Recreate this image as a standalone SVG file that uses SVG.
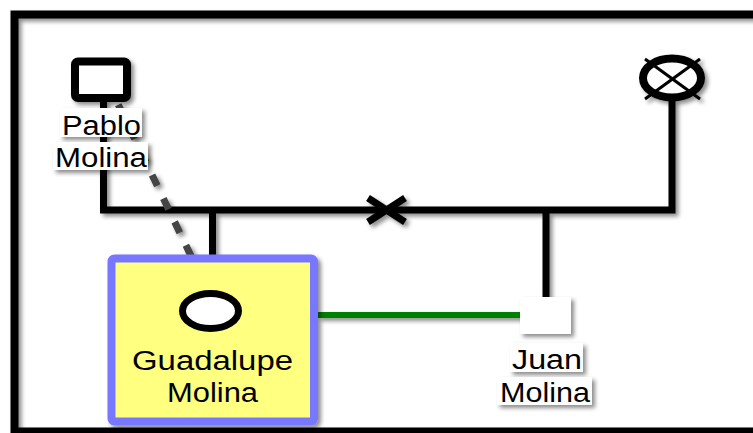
<svg xmlns="http://www.w3.org/2000/svg" width="753" height="433" viewBox="0 0 753 433">
<defs>
<filter id="sh" x="-20%" y="-20%" width="150%" height="150%">
<feGaussianBlur in="SourceAlpha" stdDeviation="2"/>
<feOffset dx="3" dy="3" result="b"/>
<feFlood flood-color="#000" flood-opacity="0.45"/>
<feComposite in2="b" operator="in"/>
<feMerge><feMergeNode/><feMergeNode in="SourceGraphic"/></feMerge>
</filter>
<style>
.ln{fill:none;stroke:#000;stroke-width:7;stroke-linejoin:miter}
.lbl{fill:#fff}
.t{font-family:"Liberation Sans",Arial,sans-serif;font-size:27px;fill:#000;text-anchor:middle}
</style>
</defs>
<rect width="753" height="433" fill="#fff"/>
<rect x="14.5" y="14.5" width="800" height="417" fill="none" stroke="#000" stroke-width="8" filter="url(#sh)"/>
<g id="connectors" filter="url(#sh)">
<polyline class="ln" points="103.5,100 103.5,210 672,210 672,100"/>
<line class="ln" x1="212.5" y1="210" x2="212.5" y2="259"/>
<line class="ln" x1="546" y1="210" x2="546" y2="298"/>
<line x1="368" y1="198" x2="405" y2="222" stroke="#000" stroke-width="7"/>
<line x1="368" y1="222" x2="405" y2="198" stroke="#000" stroke-width="7"/>
<line x1="318" y1="315" x2="521" y2="315" stroke="#008000" stroke-width="6"/>
<line x1="117" y1="102" x2="192" y2="258" stroke="#444" stroke-width="7" stroke-dasharray="12 14" stroke-dashoffset="-3"/>
</g>
<g id="pablo">
<rect x="75" y="61.5" width="52" height="36.5" rx="3" fill="#fff" stroke="#000" stroke-width="8" filter="url(#sh)"/>
<rect class="lbl" x="60" y="108" width="82" height="29" filter="url(#sh)"/>
<rect class="lbl" x="53" y="142" width="95" height="28" filter="url(#sh)"/>
<text class="t" x="101.5" y="135" textLength="79" lengthAdjust="spacingAndGlyphs">Pablo</text>
<text class="t" x="101" y="167" textLength="92" lengthAdjust="spacingAndGlyphs">Molina</text>
</g>
<g id="deceased" filter="url(#sh)">
<ellipse cx="672" cy="78" rx="29" ry="19.5" fill="#fff" stroke="#000" stroke-width="8"/>
<line x1="645" y1="59" x2="700" y2="99" stroke="#000" stroke-width="3"/>
<line x1="700" y1="59" x2="645" y2="99" stroke="#000" stroke-width="3"/>
</g>
<g id="guadalupe">
<rect x="111.5" y="258.5" width="202.5" height="163" rx="3" fill="#ffff80" stroke="#7777ff" stroke-width="8" filter="url(#sh)"/>
<ellipse cx="210.5" cy="311" rx="28" ry="17.5" fill="#fff" stroke="#000" stroke-width="7"/>
<text class="t" x="212.5" y="370" textLength="161" lengthAdjust="spacingAndGlyphs">Guadalupe</text>
<text class="t" x="212.5" y="402" textLength="91" lengthAdjust="spacingAndGlyphs">Molina</text>
</g>
<g id="juan">
<rect x="520" y="297" width="51" height="37" fill="#fff" filter="url(#sh)"/>
<rect class="lbl" x="510" y="343" width="73" height="29" filter="url(#sh)"/>
<rect class="lbl" x="497" y="377" width="95" height="28" filter="url(#sh)"/>
<text class="t" x="547" y="369" textLength="70" lengthAdjust="spacingAndGlyphs">Juan</text>
<text class="t" x="545" y="402" textLength="90" lengthAdjust="spacingAndGlyphs">Molina</text>
</g>
</svg>
